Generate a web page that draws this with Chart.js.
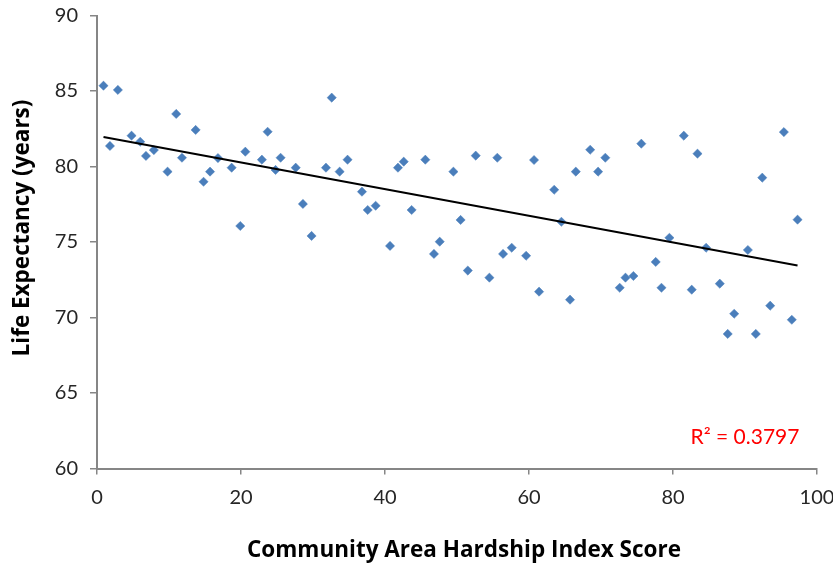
<!DOCTYPE html>
<html>
<head>
<meta charset="utf-8">
<script src="https://cdn.jsdelivr.net/npm/chart.js@4"></script>
<style>
html,body{margin:0;padding:0;background:#fff;}
canvas{display:block;}
</style>
</head>
<body>
<canvas id="c" width="833" height="569"></canvas>
<script>
// ---- data ----
const hardshipIndex = [
  0.9, 2.9, 1.8, 4.8, 6.0, 6.8, 7.9, 9.8, 11.0, 11.8,
  13.7, 14.8, 15.7, 16.8, 18.7, 20.6, 19.9, 22.9, 23.7, 24.8,
  25.5, 27.6, 28.6, 29.8, 31.8, 32.6, 33.7, 34.8, 36.8, 37.6,
  38.7, 40.7, 41.8, 42.6, 43.7, 45.6, 46.8, 47.6, 49.5, 50.5,
  51.5, 52.6, 54.5, 55.6, 56.4, 57.6, 59.6, 60.7, 61.4, 63.5,
  64.5, 65.7, 66.5, 68.5, 69.6, 70.6, 72.6, 73.4, 74.5, 75.6,
  77.6, 78.4, 79.5, 81.5, 82.6, 83.4, 84.6, 86.5, 87.6, 88.5,
  90.4, 91.5, 92.4, 93.5, 95.4, 96.5, 97.3
];
const lifeExpectancy = [
  85.35, 85.07, 81.36, 82.04, 81.64, 80.70, 81.09, 79.66, 83.48, 80.58,
  82.42, 78.99, 79.66, 80.56, 79.92, 80.98, 76.06, 80.45, 82.30, 79.77,
  80.58, 79.92, 77.52, 75.40, 79.92, 84.56, 79.66, 80.45, 78.33, 77.12,
  77.40, 74.74, 79.92, 80.32, 77.12, 80.45, 74.21, 75.02, 79.66, 76.46,
  73.11, 80.72, 72.64, 80.58, 74.21, 74.62, 74.09, 80.43, 71.71, 78.46,
  76.34, 71.18, 79.66, 81.11, 79.66, 80.58, 71.97, 72.64, 72.75, 81.51,
  73.68, 71.97, 75.28, 82.04, 71.84, 80.85, 74.62, 72.24, 68.91, 70.25,
  74.47, 68.91, 79.26, 70.78, 82.28, 69.85, 76.48
];
const xTicks = [0, 20, 40, 60, 80, 100];
const yTicks = [60, 65, 70, 75, 80, 85, 90];
const rSquaredLabel = "R\u00B2 = 0.3797";
const xTitle = "Community Area Hardship Index Score";
const yTitle = "Life Expectancy (years)";

// ---- linear trend line (least squares) ----
const n = hardshipIndex.length;
const mx = hardshipIndex.reduce((a, b) => a + b, 0) / n;
const my = lifeExpectancy.reduce((a, b) => a + b, 0) / n;
let sxy = 0, sxx = 0;
for (let i = 0; i < n; i++) {
  sxy += (hardshipIndex[i] - mx) * (lifeExpectancy[i] - my);
  sxx += (hardshipIndex[i] - mx) ** 2;
}
const slope = sxy / sxx;
const intercept = my - slope * mx;
const xMin = Math.min(...hardshipIndex), xMax = Math.max(...hardshipIndex);
const trend = [xMin, xMax].map(x => ({ x, y: intercept + slope * x }));

const points = hardshipIndex.map((x, i) => ({ x, y: lifeExpectancy[i] }));

const textPlugin = {
  id: 'texts',
  afterDraw(chart) {
    const ctx = chart.ctx;
    const a = chart.chartArea;
    ctx.save();
    ctx.fillStyle = '#ff0000';
    ctx.font = '21px Lato';
    ctx.textAlign = 'center';
    ctx.textBaseline = 'middle';
    ctx.fillText(rSquaredLabel, a.right - 72, a.bottom - 31);
    ctx.fillStyle = '#000';
    ctx.font = 'bold 22.5px "Open Sans"';
    ctx.fillText(xTitle, 464, 551);
    ctx.translate(23, 228);
    ctx.rotate(-Math.PI / 2);
    ctx.fillText(yTitle, 0, 0);
    ctx.restore();
  }
};

new Chart(document.getElementById('c'), {
  type: 'scatter',
  data: {
    datasets: [
      {
        type: 'line',
        data: trend,
        borderColor: '#000',
        borderWidth: 2,
        pointRadius: 0,
        fill: false,
        order: 0
      },
      {
        data: points,
        pointStyle: 'rectRot',
        pointRadius: 4.6,
        pointBackgroundColor: '#4A7EBB',
        pointBorderColor: '#4A7EBB',
        pointBorderWidth: 0.5,
        order: 1
      }
    ]
  },
  options: {
    responsive: false,
    animation: false,
    layout: { padding: { top: 15.5, right: 16, left: 0, bottom: 0 } },
    plugins: { legend: { display: false }, tooltip: { enabled: false } },
    scales: {
      x: {
        type: 'linear',
        min: xTicks[0],
        max: xTicks[xTicks.length - 1],
        afterBuildTicks(s) { s.ticks = xTicks.map(v => ({ value: v })); },
        afterFit(s) { s.height = 100.5; s.paddingRight = 0; s.paddingLeft = 0; },
        grid: { display: true, drawOnChartArea: false, drawTicks: true, tickLength: 6, color: '#868686', lineWidth: 1.5 },
        border: { display: true, color: '#868686', width: 2 },
        ticks: { padding: 11, color: '#262626', font: { family: 'Lato', size: 20 }, maxRotation: 0 },
        title: { display: false }
      },
      y: {
        type: 'linear',
        min: yTicks[0],
        max: yTicks[yTicks.length - 1],
        afterBuildTicks(s) { s.ticks = yTicks.map(v => ({ value: v })); },
        afterFit(s) { s.width = 97; s.paddingTop = 0; s.paddingBottom = 0; },
        grid: { display: true, drawOnChartArea: false, drawTicks: true, tickLength: 7, color: '#868686', lineWidth: 1.5 },
        border: { display: true, color: '#868686', width: 2 },
        ticks: { padding: 12, color: '#262626', font: { family: 'Lato', size: 20 } },
        title: { display: false }
      }
    }
  },
  plugins: [textPlugin]
});
</script>
</body>
</html>
